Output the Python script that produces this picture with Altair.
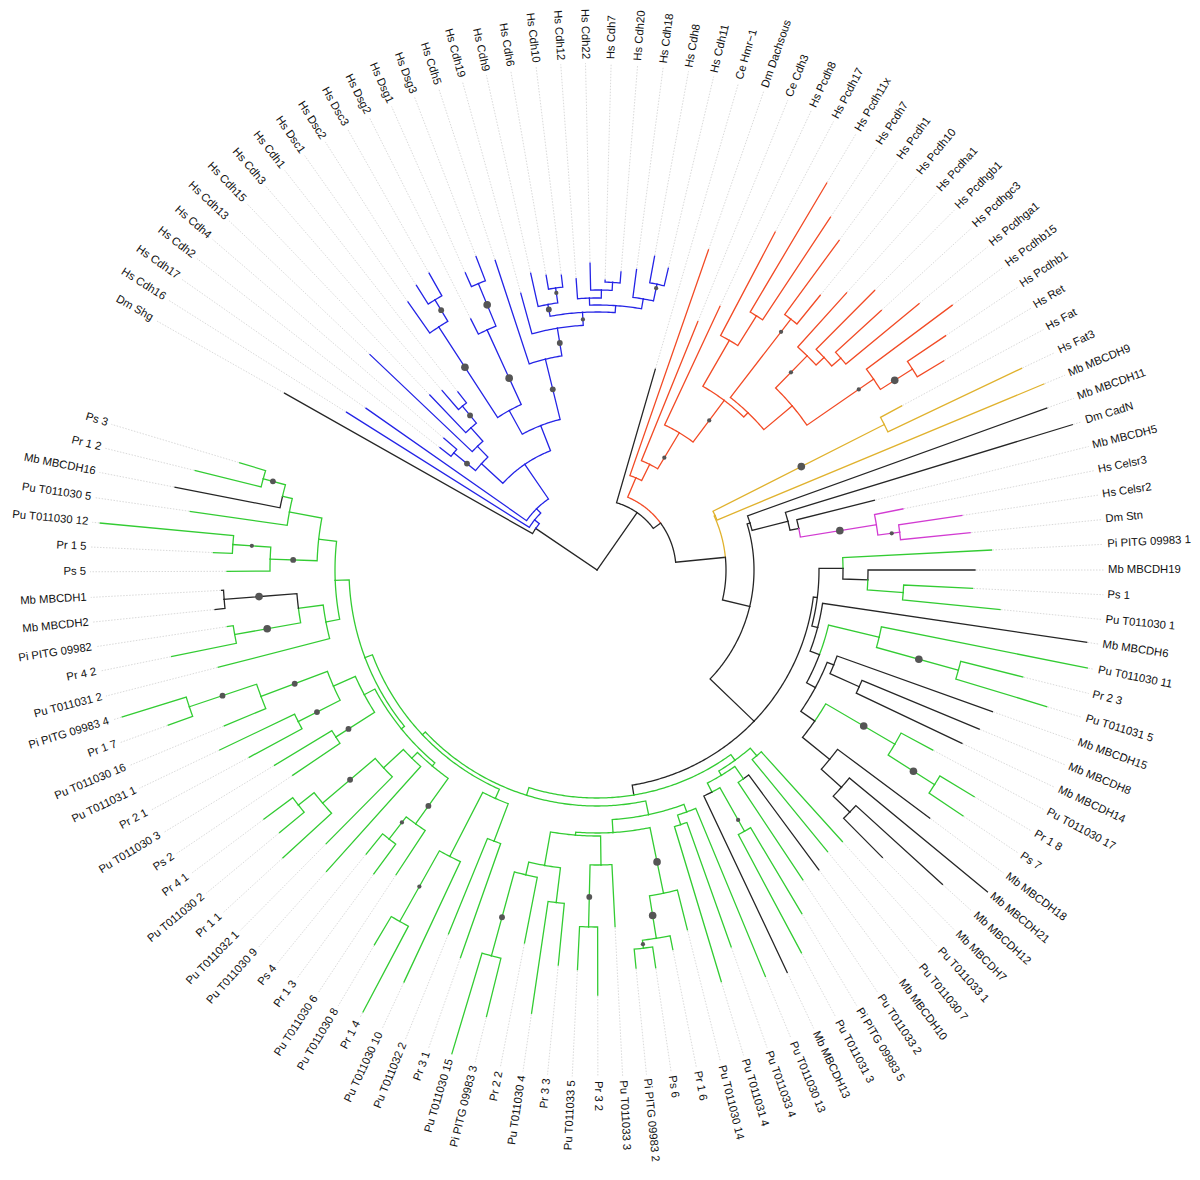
import math
import altair as alt
import pandas as pd

# ---------------- data ----------------
LEAVES = [
    "Dm Shg", "Hs Cdh16", "Hs Cdh17", "Hs Cdh2", "Hs Cdh4", "Hs Cdh13", "Hs Cdh15", "Hs Cdh3", "Hs Cdh1",
    "Hs Dsc1", "Hs Dsc2", "Hs Dsc3", "Hs Dsg2", "Hs Dsg1", "Hs Dsg3", "Hs Cdh5", "Hs Cdh19", "Hs Cdh9",
    "Hs Cdh6", "Hs Cdh10", "Hs Cdh12", "Hs Cdh22", "Hs Cdh7", "Hs Cdh20", "Hs Cdh18", "Hs Cdh8", "Hs Cdh11",
    "Ce Hmr\u22121", "Dm Dachsous", "Ce Cdh3", "Hs Pcdh8", "Hs Pcdh17", "Hs Pcdh11x", "Hs Pcdh7", "Hs Pcdh1",
    "Hs Pcdh10", "Hs Pcdha1", "Hs Pcdhgb1", "Hs Pcdhgc3", "Hs Pcdhga1", "Hs Pcdhb15", "Hs Pcdhb1", "Hs Ret",
    "Hs Fat", "Hs Fat3", "Mb MBCDH9", "Mb MBCDH11", "Dm CadN", "Mb MBCDH5", "Hs Celsr3", "Hs Celsr2", "Dm Stn",
    "Pi PITG 09983 1", "Mb MBCDH19", "Ps 1", "Pu T011030 1", "Mb MBCDH6", "Pu T011030 11", "Pr 2 3",
    "Pu T011031 5", "Mb MBCDH15", "Mb MBCDH8", "Mb MBCDH14", "Pu T011030 17", "Pr 1 8", "Ps 7", "Mb MBCDH18",
    "Mb MBCDH21", "Mb MBCDH12", "Mb MBCDH7", "Pu T011033 1", "Pu T011030 7", "Mb MBCDH10", "Pu T011033 2",
    "Pi PITG 09983 5", "Pu T011031 3", "Mb MBCDH13", "Pu T011030 13", "Pu T011033 4", "Pu T011031 4",
    "Pu T011030 14", "Pr 1 6", "Ps 6", "Pi PITG 09983 2", "Pu T011033 3", "Pr 3 2", "Pu T011033 5", "Pr 3 3",
    "Pu T011030 4", "Pr 2 2", "Pi PITG 09983 3", "Pu T011030 15", "Pr 3 1", "Pu T011032 2", "Pu T011030 10",
    "Pr 1 4", "Pu T011030 8", "Pu T011030 6", "Pr 1 3", "Ps 4", "Pu T011030 9", "Pu T011032 1", "Pr 1 1",
    "Pu T011030 2", "Pr 4 1", "Ps 2", "Pu T011030 3", "Pr 2 1", "Pu T011031 1", "Pu T011030 16", "Pr 1 7",
    "Pi PITG 09983 4", "Pu T011031 2", "Pr 4 2", "Pi PITG 09982", "Mb MBCDH2", "Mb MBCDH1", "Ps 5", "Pr 1 5",
    "Pu T011030 12", "Pu T011030 5", "Mb MBCDH16", "Pr 1 2", "Ps 3",
]

# angular position of each tip (degrees, counter-clockwise from east)
TIP_ANGLE = [
    150.5, 147.8, 145.0, 142.1, 139.3, 136.5, 133.7, 130.8, 128.0,
    125.2, 122.4, 119.5, 116.7, 113.9, 111.1, 108.2, 105.4, 102.6,
    99.8, 96.9, 94.1, 91.3, 88.4, 85.4, 82.5, 79.6, 76.7,
    73.8, 70.8, 67.9, 65.0, 62.2, 59.3, 56.5, 53.7,
    50.9, 48.0, 45.2, 42.4, 39.6, 36.7, 33.9, 31.1,
    28.3, 25.4, 22.6, 19.8, 17.0, 14.1, 11.3, 8.5, 5.7,
    2.9, 0.0, -2.8, -5.6, -8.4, -11.3, -14.1,
    -16.9, -19.7, -22.6, -25.4, -28.2, -31.0, -33.9, -36.7,
    -39.5, -42.3, -45.2, -47.9, -50.7, -53.5, -56.4,
    -59.2, -61.9, -64.7, -67.5, -70.4, -73.2,
    -75.9, -78.7, -81.6, -84.4, -87.1, -89.9, -92.8, -95.6,
    -98.4, -101.0, -103.9, -106.7, -109.4, -112.2, -115.1,
    -117.9, -120.7, -123.4, -126.3, -129.1, -131.9, -134.7, -137.5,
    -140.4, -143.2, -146.0, -148.8, -151.7, -154.5, -157.3, -160.1,
    -162.8, -165.6, -168.5, -171.3, -174.1, -176.9, -179.8, -182.6,
    -185.4, -188.2, -191.1, -193.9, -196.7,
]

# distance of each tip from the root (same order as LEAVES)
TIP_R = [
    359, 296, 282, 199, 202, 313, 242, 237, 226,
    328, 337, 341, 281, 325, 336, 326, 287, 304,
    299, 297, 292, 307, 290, 299, 303, 319, 310,
    209, 339, 268, 291, 382, 450, 423, 409,
    354, 373, 394, 385, 418, 443, 420, 405,
    346, 470, 484, 478, 497, 286, 312, 369, 375,
    395, 378, 376, 405, 495, 500, 439,
    470, 420, 414, 404, 381, 440, 441, 415,
    506, 467, 405, 366, 364, 373, 372,
    400, 434, 445, 440, 400, 430,
    371, 387, 402, 400, 357, 425, 400, 397,
    448, 380, 460, 505, 411, 393, 455,
    500, 436, 365, 377, 366, 405, 385, 426,
    412, 416, 367, 377, 395, 418, 404, 456,
    497, 391, 434, 374, 384, 376, 370, 384,
    499, 411, 430, 414, 373,
]

# colour group of each tip: b classical, r protocadherin, y fat, m celsr, g oomycete, k other
GROUP = ("k" + "b" * 26 + "k" + "r" * 15 + "yyy" + "kkk" + "mmm"
         + "".join("k" if n.startswith("Mb") else "g" for n in LEAVES[52:]))

COLORS = {"k": "#262626", "b": "#2424e6", "r": "#f24b26", "y": "#e0b22e",
          "m": "#d23cd2", "g": "#33cc33"}
DOT_SIZE = {"s": 18, "m": 34, "b": 58}


def N(r, *kids, dot=None, forced=False):
    return {"r": r, "kids": list(kids), "dot": dot, "forced": forced}


# tree topology with node depths (distance from the root)
GREEN = N(228,
    N(235,
        N(245, "Pu T011033 1", "Pu T011030 7"),
        N(240,
            N(255, "Mb MBCDH10", "Pu T011033 2"),
            N(250, N(300, "Pi PITG 09983 5", "Pu T011031 3", dot=(287, "s")), "Mb MBCDH13"))),
    N(236,
        N(250,
            N(258, "Pu T011030 13", N(268, "Pu T011033 4", "Pu T011031 4")),
            N(263,
                N(330, "Pu T011030 14",
                  N(373, "Pr 1 6", N(381, "Ps 6", "Pi PITG 09983 2", dot=(377, "s")), dot=(350, "b")),
                  dot=(298, "b")),
                N(266,
                    N(295, "Pu T011033 3", N(357, "Pr 3 2", "Pu T011033 5", dot=(327, "m"))),
                    N(300,
                        N(335, "Pr 3 3", "Pu T011030 4"),
                        N(313, "Pr 2 2", N(400, "Pi PITG 09983 3", "Pu T011030 15", dot=(360, "m"))))))),
        N(240,
            N(250,
                N(290, "Pr 3 1", "Pu T011032 2"),
                N(322, "Pu T011030 10", N(403, "Pr 1 4", "Pu T011030 8", dot=(363, "s")))),
            N(248,
                N(252,
                    N(256,
                        N(312, "Pu T011030 6", N(340, "Pr 1 3", "Ps 4", dot=(319, "s")), dot=(290, "m")),
                        N(264, "Pu T011030 9",
                          N(291, "Pu T011032 1",
                            N(360, "Pr 1 1", N(380, "Pu T011030 2", "Pr 4 1"), dot=(324, "m"))))),
                    N(264,
                        N(310, "Ps 2", "Pu T011030 3", dot=(295, "m")),
                        N(288,
                            N(335, "Pr 2 1", "Pu T011031 1", dot=(314, "m")),
                            N(359, "Pu T011030 16",
                              N(430, "Pr 1 7", "Pi PITG 09983 4", dot=(395, "m")), dot=(323, "m"))))),
                N(262,
                    N(276, "Pu T011031 2",
                      N(301,
                        N(368, "Pr 4 2", "Pi PITG 09982", dot=(335, "b")),
                        N(374, "Mb MBCDH2", "Mb MBCDH1", dot=(339, "b")))),
                    N(280,
                        N(327, "Ps 5", N(365, "Pr 1 5", "Pu T011030 12", dot=(346, "s")), dot=(304, "m")),
                        N(313, "Pu T011030 5",
                          N(323, "Mb MBCDH16", N(346, "Pr 1 2", "Ps 3", dot=(336, "m"))))))))),
    forced=True)

TREE = N(0,
    N(74, "Dm Shg",
      N(80, "Hs Cdh16",
        N(86, "Hs Cdh17",
          N(128,
            N(157,
              N(185, "Hs Cdh2", "Hs Cdh4", dot=(168, "m")),
              N(172, "Hs Cdh13",
                N(190, "Hs Cdh15", N(212, "Hs Cdh3", "Hs Cdh1", dot=(200, "m"))))),
            N(155,
              N(182,
                N(290, "Hs Dsc1", N(315, "Hs Dsc2", "Hs Dsc3", dot=(303, "m")), dot=(242, "b")),
                N(264, "Hs Dsg2", N(310, "Hs Dsg1", "Hs Dsg3", dot=(287, "b")), dot=(211, "b"))),
              N(217, "Hs Cdh5",
                N(245, "Hs Cdh19",
                  N(258,
                    N(270, "Hs Cdh9", N(285, "Hs Cdh6", "Hs Cdh10", dot=(280, "s")), dot=(265, "m")),
                    N(265,
                      N(272, "Hs Cdh12", N(280, "Hs Cdh22", N(288, "Hs Cdh7", "Hs Cdh20"))),
                      N(275, "Hs Cdh18", N(292, "Hs Cdh8", "Hs Cdh11", dot=(288, "s")))),
                    dot=(251, "s")),
                  dot=(230, "m")),
                dot=(186, "m"))))))),
    N(70, "Ce Hmr\u22121",
      N(79,
        N(100, "Dm Dachsous",
          N(118, "Ce Cdh3",
            N(160, "Hs Pcdh8",
              N(212,
                N(265, "Hs Pcdh17", N(300, "Hs Pcdh11x", "Hs Pcdh7")),
                N(218,
                  N(317, "Hs Pcdh1", "Hs Pcdh10", dot=(301, "s")),
                  N(255,
                    N(300, "Hs Pcdha1", N(311, "Hs Pcdhgb1", N(323, "Hs Pcdhgc3", "Hs Pcdhga1")),
                      dot=(277, "s")),
                    N(336, "Hs Pcdhb15", N(374, "Hs Pcdhb1", "Hs Ret", dot=(353, "b")), dot=(318, "s")))),
                dot=(187, "s")),
              dot=(131, "s")))),
        N(129,
          N(130, N(322, "Hs Fat", "Hs Fat3", dot=(229, "b")), "Mb MBCDH9"),
          N(157,
            N(160, "Mb MBCDH11",
              N(197, "Dm CadN",
                N(206, "Mb MBCDH5",
                  N(283, "Hs Celsr3", N(305, "Hs Celsr2", "Dm Stn", dot=(297, "s")), dot=(246, "b"))))),
            N(218,
              N(222,
                N(246, "Pi PITG 09983 1", N(271, "Mb MBCDH19", N(307, "Ps 1", "Pu T011030 1"))),
                N(228, "Mb MBCDH6",
                  N(238,
                    N(290, "Pu T011030 11", N(375, "Pr 2 3", "Pu T011031 5", dot=(334, "b"))),
                    N(248,
                      N(255, "Mb MBCDH15", N(287, "Mb MBCDH8", "Mb MBCDH14")),
                      N(265,
                        N(345, "Pu T011030 17", N(400, "Pr 1 8", "Ps 7", dot=(375, "b")), dot=(309, "b")),
                        N(300, "Mb MBCDH18",
                          N(327, "Mb MBCDH21", N(350, "Mb MBCDH12", "Mb MBCDH7")))))))),
              GREEN))))))

LABEL_R = 511
LEADER_END = 507

# ---------------- layout ----------------
tip_r = dict(zip(LEAVES, TIP_R))
tip_g = dict(zip(LEAVES, GROUP))
tip_a = dict(zip(LEAVES, TIP_ANGLE))
order = []


def collect(n):
    if isinstance(n, str):
        order.append(n)
        return
    for k in n["kids"]:
        collect(k)


collect(TREE)
assert order == LEAVES, [(a, b) for a, b in zip(order, LEAVES) if a != b][:3]


def info(n):
    if isinstance(n, str):
        return tip_a[n], tip_r[n], {tip_g[n]}
    angs = []
    groups = set()
    for k in n["kids"]:
        a, _, g = info(k)
        angs.append(a)
        groups |= g
    n["a"] = (angs[0] + angs[-1]) / 2
    n["groups"] = groups
    return n["a"], n["r"], groups


info(TREE)


def pol(r, a):
    t = math.radians(a)
    return r * math.cos(t), r * math.sin(t)


seg_rows, dot_rows = [], []
seg_id = [0]


def edge_colour(child, forced):
    g = {tip_g[child]} if isinstance(child, str) else child["groups"]
    if len(g) == 1:
        return COLORS[next(iter(g))]
    if forced and g != {"k"}:
        return COLORS["g"]
    return COLORS["k"]


def walk(n, forced):
    pa, pr = n["a"], n["r"]
    inner = forced or n["forced"]
    for k in n["kids"]:
        if isinstance(k, str):
            ca, cr, dot = tip_a[k], tip_r[k], None
        else:
            ca, cr, dot = k["a"], k["r"], k["dot"]
        col = edge_colour(k, inner)
        pts = []
        if pr > 0:
            steps = max(2, int(abs(ca - pa) / 0.5) + 1)
            for s in range(steps + 1):
                pts.append(pol(pr, pa + (ca - pa) * s / steps))
        else:
            pts.append((0.0, 0.0))
        pts.append(pol(cr, ca))
        sid = seg_id[0]
        seg_id[0] += 1
        for j, (x, y) in enumerate(pts):
            seg_rows.append({"seg": sid, "ord": j, "x": x, "y": y, "col": col})
        if dot:
            x, y = pol(dot[0], ca)
            dot_rows.append({"x": x, "y": y, "s": DOT_SIZE[dot[1]]})
        if not isinstance(k, str):
            walk(k, inner)


walk(TREE, False)

lead_rows, lab_rows = [], []
for i, name in enumerate(LEAVES):
    a, r = tip_a[name], tip_r[name]
    if r < LEADER_END - 2:
        x1, y1 = pol(r + 1, a)
        x2, y2 = pol(LEADER_END, a)
        lead_rows += [{"seg": i, "ord": 0, "x": x1, "y": y1}, {"seg": i, "ord": 1, "x": x2, "y": y2}]
    x, y = pol(LABEL_R, a)
    c = math.cos(math.radians(a))
    if c >= 0:
        rot, side = (-a) % 360, "R"
    else:
        rot, side = (180 - a) % 360, "L"
    lab_rows.append({"x": x, "y": y, "t": name, "rot": rot, "side": side})

segs = pd.DataFrame(seg_rows)
dots = pd.DataFrame(dot_rows)
leads = pd.DataFrame(lead_rows)
labs = pd.DataFrame(lab_rows)

# ---------------- chart ----------------
W, H = 1184, 1164
CX, CY = 589, 562
xs = alt.Scale(domain=[-CX, W - CX])
ys = alt.Scale(domain=[CY - H, CY])

X = alt.X("x:Q", scale=xs, axis=None)
Y = alt.Y("y:Q", scale=ys, axis=None)

leaders = alt.Chart(leads).mark_line(stroke="#c9c9c9", strokeWidth=0.7, strokeDash=[1.5, 1.5]).encode(
    x=X, y=Y, detail="seg:N", order="ord:Q")
branches = alt.Chart(segs).mark_line(strokeWidth=1.3, strokeJoin="miter", strokeCap="square").encode(
    x=X, y=Y, detail="seg:N", order="ord:Q", color=alt.Color("col:N", scale=None))
points = alt.Chart(dots).mark_circle(color="#555555", opacity=1).encode(
    x=X, y=Y, size=alt.Size("s:Q", scale=None))
text_r = alt.Chart(labs[labs.side == "R"]).mark_text(
    align="left", baseline="middle", fontSize=11.3, font="Liberation Sans", color="#111111").encode(
    x=X, y=Y, text="t:N", angle=alt.Angle("rot:Q", scale=None))
text_l = alt.Chart(labs[labs.side == "L"]).mark_text(
    align="right", baseline="middle", fontSize=11.3, font="Liberation Sans", color="#111111").encode(
    x=X, y=Y, text="t:N", angle=alt.Angle("rot:Q", scale=None))

chart = alt.layer(leaders, branches, points, text_r, text_l).properties(
    width=W, height=H, padding=0, autosize=alt.AutoSizeParams(type="none")
).configure_view(stroke=None)

chart.save("out.html", embed_options={"renderer": "svg", "actions": False})
